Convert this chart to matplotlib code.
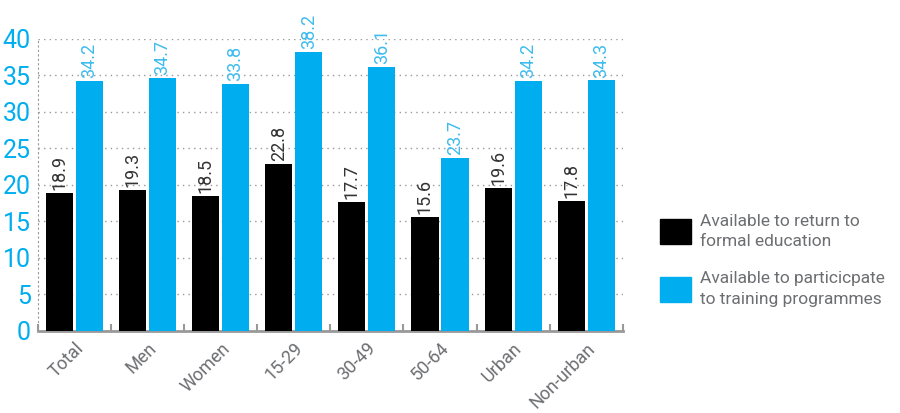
import numpy as np
import matplotlib.pyplot as plt

categories = ['Total', 'Men', 'Women', '15-29', '30-49', '50-64', 'Urban', 'Non-urban']
education = [18.9, 19.3, 18.5, 22.8, 17.7, 15.6, 19.6, 17.8]
training = [34.2, 34.7, 33.8, 38.2, 36.1, 23.7, 34.2, 34.3]
series_names = ['Available to return to\nformal education',
                'Available to particicpate\nto training programmes']

BLACK = '#000000'
BLUE = '#00AEEF'
GRAY = '#6d6e71'

plt.rcParams['font.family'] = ['Roboto', 'DejaVu Sans']

fig = plt.figure(figsize=(9, 4.13), dpi=100)
ax = fig.add_axes([0.042, 0.199, 0.65, 0.707])

x = np.arange(len(categories))
w = 0.37
gap = 0.04
b1 = ax.bar(x - (w + gap) / 2, education, w, color=BLACK, zorder=3)
b2 = ax.bar(x + (w + gap) / 2, training, w, color=BLUE, zorder=3)

for rect, v in zip(b1, education):
    ax.text(rect.get_x() + rect.get_width() / 2, v + 0.4, f'{v:.1f}', rotation=90,
            ha='center', va='bottom', fontsize=13, color='#333333')
for rect, v in zip(b2, training):
    ax.text(rect.get_x() + rect.get_width() / 2, v + 0.4, f'{v:.1f}', rotation=90,
            ha='center', va='bottom', fontsize=13, color='#3dbcee')

ax.set_xlim(-0.5, len(categories) - 0.5)
ax.set_ylim(0, 40)
ax.set_yticks(np.arange(0, 41, 5))
ax.yaxis.grid(True, linestyle=(0, (1, 3)), color='#999999', linewidth=1, zorder=0)
ax.tick_params(axis='y', length=0, labelcolor=BLUE, labelsize=18, pad=5)

ax.set_xticks(x)
ax.set_xticklabels(categories, rotation=45, ha='right', rotation_mode='anchor',
                   color=GRAY, fontsize=13)
ax.tick_params(axis='x', length=0, pad=6)
ax.set_xticks(np.arange(-0.5, len(categories)), minor=True)
ax.tick_params(axis='x', which='minor', direction='in', length=5, width=1.5, color='#999999')

for s in ['top', 'right']:
    ax.spines[s].set_visible(False)
ax.spines['left'].set_linestyle((0, (1, 3)))
ax.spines['left'].set_color('#999999')
ax.spines['bottom'].set_color('#999999')
ax.spines['bottom'].set_linewidth(2)

# legend
handles = [plt.Rectangle((0, 0), 1, 1, color=BLACK), plt.Rectangle((0, 0), 1, 1, color=BLUE)]
leg = fig.legend(handles, series_names, loc='center left', bbox_to_anchor=(0.716, 0.37),
                 frameon=False, fontsize=12.5, labelcolor=GRAY, handlelength=1.8,
                 handleheight=1.8, labelspacing=1.3, handletextpad=0.5)
for t in leg.get_texts():
    t.set_linespacing(1.45)

fig.savefig('out.png', dpi=100)
